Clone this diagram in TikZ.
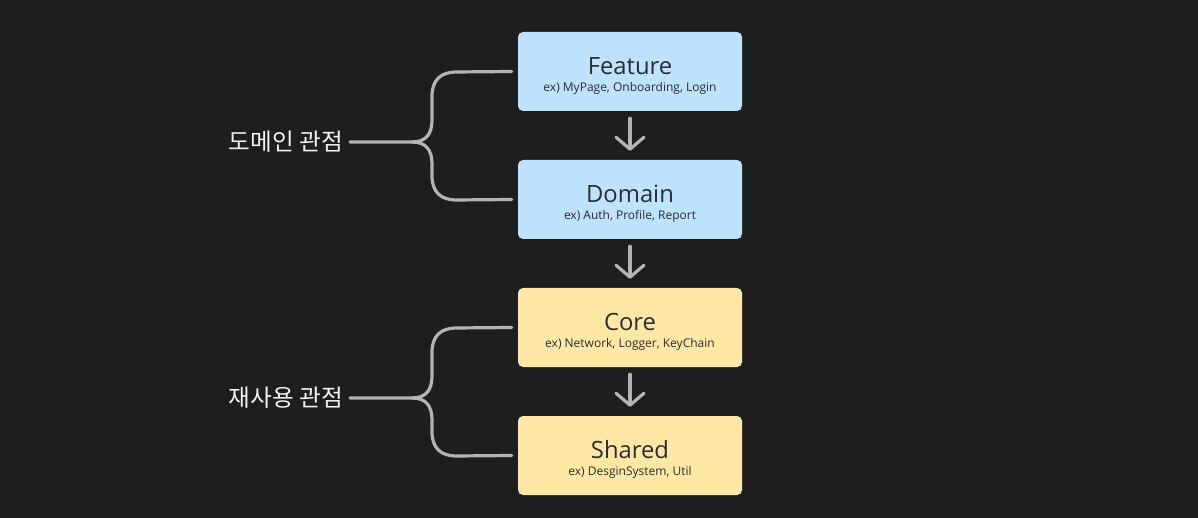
\documentclass[tikz,border=0pt]{standalone}
\usepackage{fontspec}
\setmainfont{Open Sans}
\newfontfamily\kofont{Noto Sans CJK KR}
\usetikzlibrary{positioning, arrows.meta, calc}

\definecolor{bgdark}{HTML}{1E1E1E}
\definecolor{linegray}{HTML}{B3B3B3}
\definecolor{boxblue}{HTML}{BDE3FF}
\definecolor{boxyellow}{HTML}{FFE8A3}
\definecolor{inkdark}{HTML}{2A2D31}

\begin{document}
\begin{tikzpicture}[
  x=1pt, y=-1pt,
  layer/.style={rounded corners=5pt, minimum width=224pt, minimum height=79pt, inner sep=0pt},
  blu/.style  ={layer, fill=boxblue},
  ylw/.style  ={layer, fill=boxyellow},
  ttl/.style  ={anchor=base, inner sep=0pt, text=inkdark, font=\fontsize{23.8}{24}\selectfont},
  sub/.style  ={anchor=base, inner sep=0pt, text=inkdark, font=\fontsize{12}{12}\selectfont},
  view/.style ={anchor=east, inner sep=0pt, text=white!95!black, font=\kofont\fontsize{23.6}{24}\selectfont},
  brc/.style  ={draw=linegray, line width=3.2pt, line cap=round, line join=round},
  down/.style ={-{Straight Barb[length=12pt, width=28pt, round]}, draw=linegray, line width=3.2pt, line cap=round},
]
\useasboundingbox[fill=bgdark] (0,0) rectangle (1198,518);

% ---------- layers ----------
\node[blu] (feature) at (630,71.5)  {};
\node[blu] (domain)  at (630,199.5) {};
\node[ylw] (core)    at (630,327.5) {};
\node[ylw] (shared)  at (630,455.5) {};

\node[ttl] at ($(feature.center)+(0,2.8)$) {Feature};
\node[sub] at ($(feature.center)+(0,20.2)$) {ex) MyPage, Onboarding, Login};
\node[ttl] at ($(domain.center)+(0,2.8)$) {Domain};
\node[sub] at ($(domain.center)+(0,20.2)$) {ex) Auth, Profile, Report};
\node[ttl] at ($(core.center)+(0,2.8)$) {Core};
\node[sub] at ($(core.center)+(0,20.2)$) {ex) Network, Logger, KeyChain};
\node[ttl] at ($(shared.center)+(0,2.8)$) {Shared};
\node[sub] at ($(shared.center)+(0,20.2)$) {ex) DesginSystem, Util};

% ---------- dependencies ----------
\draw[down] ([yshift=-7pt]feature.south) -- ([yshift=9pt]domain.north);
\draw[down] ([yshift=-7pt]domain.south)  -- ([yshift=9pt]core.north);
\draw[down] ([yshift=-7pt]core.south)    -- ([yshift=9pt]shared.north);

% ---------- views ----------
\node[view] (domview) at (343,142) {도메인 관점};
\node[view] (useview) at (343,398) {재사용 관점};

\coordinate (j1) at (412,142);
\coordinate (j2) at (412,398);

\draw[brc] ([xshift=7pt]domview.east) -- (j1)
  .. controls (426,142) and (432,134) .. (432,120) -- (432,96)
  .. controls (432,80) and (441,72) .. (456,72) -- ([xshift=-6pt]feature.west);
\draw[brc] (j1) .. controls (426,142) and (432,150) .. (432,164) -- (432,176)
  .. controls (432,192) and (441,200) .. (456,200) -- ([xshift=-6pt]domain.west);

\draw[brc] ([xshift=7pt]useview.east) -- (j2)
  .. controls (426,398) and (432,390) .. (432,376) -- (432,352)
  .. controls (432,336) and (441,328) .. (456,328) -- ([xshift=-6pt]core.west);
\draw[brc] (j2) .. controls (426,398) and (432,406) .. (432,420) -- (432,432)
  .. controls (432,448) and (441,456) .. (456,456) -- ([xshift=-6pt]shared.west);

\end{tikzpicture}
\end{document}
